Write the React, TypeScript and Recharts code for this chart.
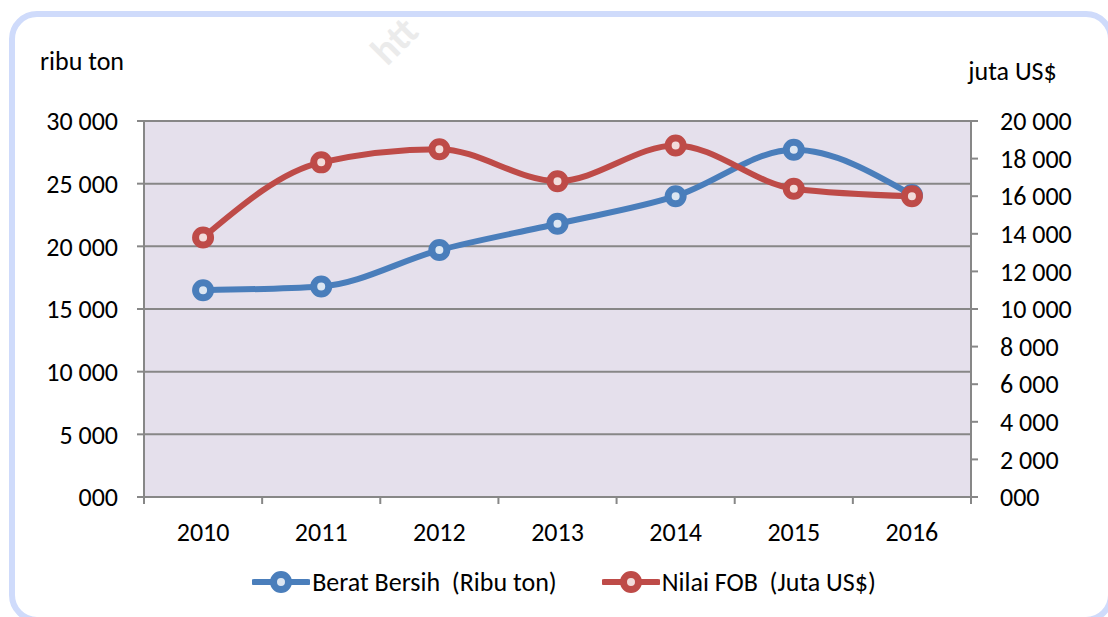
import React from 'react';
import { LineChart, Line, XAxis, YAxis, CartesianGrid, Legend } from 'recharts';

const years = ['2010', '2011', '2012', '2013', '2014', '2015', '2016'];
const beratBersih = [16500, 16800, 19700, 21800, 24000, 27700, 24100];
const nilaiFOB = [13800, 17800, 18500, 16800, 18700, 16400, 16000];
const leftTicks = [0, 5000, 10000, 15000, 20000, 25000, 30000];
const rightTicks = [0, 2000, 4000, 6000, 8000, 10000, 12000, 14000, 16000, 18000, 20000];
const seriesNames = ['Berat Bersih  (Ribu ton)', 'Nilai FOB  (Juta US$)'];
const leftUnit = 'ribu ton';
const rightUnit = 'juta US$';
const watermark = 'htt';

const data = years.map((y, i) => ({ pos: i + 0.5, year: y, berat: beratBersih[i], nilai: nilaiFOB[i] }));
const xTicks: number[] = [];
for (let i = 0; i <= years.length; i++) {
  xTicks.push(i);
  if (i < years.length) xTicks.push(i + 0.5);
}

const BLUE = '#4a7ebb';
const RED = '#be4b48';
const BLUE_FILL = '#dce6f2';
const RED_FILL = '#f2dcdb';
const GRID = '#878787';
const FONT = 'Carlito, Lato, sans-serif';
const FS = 26;

const fmt = (v: number) => (v === 0 ? '000' : `${Math.floor(v / 1000)} ${String(v % 1000).padStart(3, '0')}`);

const XTick = (props: any) => {
  const { x, y, payload } = props;
  const v = payload.value as number;
  if (Number.isInteger(v)) {
    return <line x1={x} x2={x} y1={y} y2={y + 7} stroke={GRID} strokeWidth={2} />;
  }
  const label = years[Math.floor(v)];
  return (
    <text x={x} y={y + 35} textAnchor="middle" dominantBaseline="central" fill="#000" fontSize={FS} fontFamily={FONT}>
      {label}
    </text>
  );
};

const LegendContent = () => {
  const items = [
    { name: seriesNames[0], color: BLUE, fill: BLUE_FILL },
    { name: seriesNames[1], color: RED, fill: RED_FILL },
  ];
  return (
    <div style={{ display: 'flex', justifyContent: 'center', alignItems: 'center', height: 30, gap: 45, paddingLeft: 20 }}>
      {items.map((it) => (
        <div key={it.name} style={{ display: 'flex', alignItems: 'center' }}>
          <svg width={58} height={26}>
            <line x1={2} x2={56} y1={13} y2={13} stroke={it.color} strokeWidth={6} strokeLinecap="round" />
            <circle cx={29} cy={13} r={7.5} stroke={it.color} strokeWidth={7} fill={it.fill} />
          </svg>
          <span style={{ whiteSpace: 'pre', fontFamily: FONT, fontSize: FS, color: '#000', marginLeft: 2 }}>{it.name}</span>
        </div>
      ))}
    </div>
  );
};

export default function App() {
  return (
    <div style={{ position: 'absolute', left: 0, top: 0, width: 1108, height: 617, overflow: 'hidden', background: '#fff' }}>
      <div
        style={{
          position: 'absolute',
          left: 392,
          top: 72,
          transform: 'rotate(-45deg)',
          transformOrigin: 'left bottom',
          color: '#ebebeb',
          fontFamily: FONT,
          fontSize: 40,
          fontWeight: 'bold',
          lineHeight: '40px',
          marginTop: -40,
        }}
      >
        {watermark}
      </div>
      <div
        style={{
          position: 'absolute',
          left: 9,
          top: 11,
          width: 1114 - 9,
          height: 612,
          border: '6px solid #cfdbfb',
          borderRadius: 28,
          boxSizing: 'border-box',
        }}
      />
      <div style={{ position: 'absolute', left: 0, top: 0 }}>
        <LineChart width={1108} height={617} data={data} margin={{ top: 121, right: 0, left: 0, bottom: 20 }}>
          <CartesianGrid yAxisId="left" vertical={false} stroke={GRID} strokeWidth={2} fill="#e5e0ec" />
          <XAxis
            dataKey="pos"
            type="number"
            domain={[0, years.length]}
            ticks={xTicks}
            interval={0}
            tickSize={0}
            tickMargin={0}
            tickLine={false}
            tick={<XTick />}
            height={70}
            stroke={GRID}
            strokeWidth={2}
          />
          <YAxis
            yAxisId="left"
            domain={[0, 30000]}
            ticks={leftTicks}
            interval={0}
            width={144}
            tickSize={7}
            tickMargin={19}
            tickFormatter={fmt}
            stroke={GRID}
            strokeWidth={2}
            tick={{ fill: '#000', fontSize: FS, fontFamily: FONT }}
            label={{ value: leftUnit, position: 'top', offset: 51, dx: 10, style: { fill: '#000', fontSize: FS, fontFamily: FONT } }}
          />
          <YAxis
            yAxisId="right"
            orientation="right"
            domain={[0, 20000]}
            ticks={rightTicks}
            interval={0}
            width={137}
            tickSize={7}
            tickMargin={22}
            tickFormatter={fmt}
            stroke={GRID}
            strokeWidth={2}
            tick={{ fill: '#000', fontSize: FS, fontFamily: FONT, textAnchor: 'start' }}
            label={{ value: rightUnit, position: 'top', offset: 41, dx: -27, style: { fill: '#000', fontSize: FS, fontFamily: FONT } }}
          />
          <Legend verticalAlign="bottom" wrapperStyle={{ height: 30 }} content={<LegendContent />} />
          <Line
            yAxisId="left"
            dataKey="berat"
            name={seriesNames[0]}
            type="monotone"
            stroke={BLUE}
            strokeWidth={6}
            dot={{ r: 7.5, stroke: BLUE, strokeWidth: 7, fill: BLUE_FILL }}
            activeDot={false}
            isAnimationActive={false}
          />
          <Line
            yAxisId="right"
            dataKey="nilai"
            name={seriesNames[1]}
            type="monotone"
            stroke={RED}
            strokeWidth={6}
            dot={{ r: 7.5, stroke: RED, strokeWidth: 7, fill: RED_FILL }}
            activeDot={false}
            isAnimationActive={false}
          />
        </LineChart>
      </div>
    </div>
  );
}
